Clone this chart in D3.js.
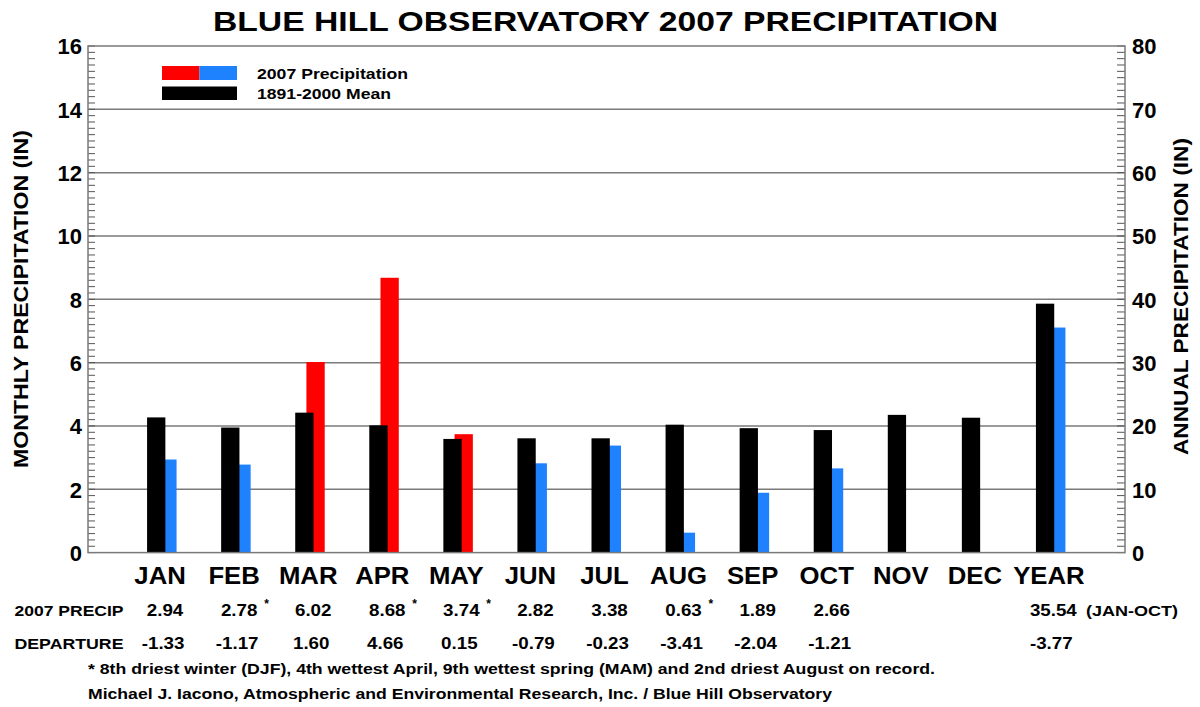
<!DOCTYPE html>
<html>
<head>
<meta charset="utf-8">
<script src="https://cdn.jsdelivr.net/npm/d3@7"></script>
<style>
  html, body { margin: 0; padding: 0; background: #fff; }
  svg { display: block; font-family: "Liberation Sans", Arial, Helvetica, sans-serif; font-weight: bold; }
</style>
</head>
<body>
<svg id="chart" width="1200" height="707"></svg>
<script>
// Monthly precipitation, Blue Hill Observatory, 2007 (inches)
const categories = ["JAN", "FEB", "MAR", "APR", "MAY", "JUN", "JUL", "AUG", "SEP", "OCT", "NOV", "DEC"];
const precip2007 = [2.94, 2.78, 6.02, 8.68, 3.74, 2.82, 3.38, 0.63, 1.89, 2.66, null, null];
const departure  = [-1.33, -1.17, 1.60, 4.66, 0.15, -0.79, -0.23, -3.41, -2.04, -1.21, null, null];
const meanMonthly = [4.27, 3.95, 4.42, 4.02, 3.59, 3.61, 3.61, 4.04, 3.93, 3.87, 4.35, 4.26];
const recordFlags = [false, true, false, true, true, false, false, true, false, false, false, false];

// Annual totals (plotted against the right-hand axis)
const yearLabel = "YEAR";
const annual2007 = 35.54;
const annualDeparture = -3.77;
const annualMean = 39.31;
const annualNote = "(JAN-OCT)";

const leftTicks = [0, 2, 4, 6, 8, 10, 12, 14, 16];
const rightTicks = [0, 10, 20, 30, 40, 50, 60, 70, 80];

const footnote = "* 8th driest winter (DJF), 4th wettest April, 9th wettest spring (MAM) and 2nd driest August on record.";
const credit = "Michael J. Iacono, Atmospheric and Environmental Research, Inc. / Blue Hill Observatory";

const svg = d3.select("#chart");
const plot = { left: 88, right: 1125, top: 46, bottom: 552.6 };

const RED = "#ff0000", BLUE = "#1e82ff", GRID = "#7a7a7a";

// Widen glyphs horizontally to mimic the wide Helvetica used in the plot
function widen(sel, factor) {
  sel.each(function () {
    const w = this.getComputedTextLength();
    d3.select(this).attr("textLength", w * factor).attr("lengthAdjust", "spacingAndGlyphs");
  });
  return sel;
}
function fitTo(sel, width) {
  return sel.attr("textLength", width).attr("lengthAdjust", "spacingAndGlyphs");
}

// x position: category i sits at i+1 on a 0..14 slot scale
const x = d3.scaleLinear().domain([0, 14]).range([plot.left, plot.right]);
const yL = d3.scaleLinear().domain([0, 16]).range([plot.bottom, plot.top]);
const yR = d3.scaleLinear().domain([0, 80]).range([plot.bottom, plot.top]);

const BAR_W = 18.3;
const MEAN_OFF = -15;   // mean bar starts left of slot centre
const OBS_OFF = -3.8;   // observed bar overlaps, shifted right

// Title
fitTo(svg.append("text")
  .attr("x", 605.5).attr("y", 31)
  .attr("text-anchor", "middle")
  .attr("font-size", 28)
  .text("BLUE HILL OBSERVATORY 2007 PRECIPITATION"), 785);

// Gridlines at major left ticks
svg.append("g").selectAll("line")
  .data(leftTicks.filter(d => d > 0 && d < 16))
  .join("line")
  .attr("x1", plot.left).attr("x2", plot.right)
  .attr("y1", d => yL(d)).attr("y2", d => yL(d))
  .attr("stroke", GRID).attr("stroke-width", 1.5);

// Left axis: labels + minor ticks
const leftAxis = d3.axisLeft(yL).tickValues(leftTicks).tickSize(0).tickPadding(6).tickFormat(d3.format("d"));
const gL = svg.append("g").attr("transform", `translate(${plot.left},0)`).call(leftAxis);
gL.select(".domain").remove();
gL.selectAll("text").attr("font-size", 22).attr("font-family", null).attr("font-weight", "bold").attr("fill", "#000").attr("dy", "0.36em");

const leftMinor = d3.range(0, 16.001, 0.2);
svg.append("g").selectAll("line").data(leftMinor).join("line")
  .attr("x1", plot.left).attr("x2", plot.left + 7)
  .attr("y1", d => yL(d)).attr("y2", d => yL(d))
  .attr("stroke", "#555").attr("stroke-width", 1);

// Right axis: labels + minor ticks
const rightAxis = d3.axisRight(yR).tickValues(rightTicks).tickSize(0).tickPadding(7).tickFormat(d3.format("d"));
const gR = svg.append("g").attr("transform", `translate(${plot.right},0)`).call(rightAxis);
gR.select(".domain").remove();
gR.selectAll("text").attr("font-size", 22).attr("font-family", null).attr("font-weight", "bold").attr("fill", "#000").attr("dy", "0.36em");

const rightMinor = d3.range(0, 80.001, 1);
svg.append("g").selectAll("line").data(rightMinor).join("line")
  .attr("x1", plot.right - 8).attr("x2", plot.right)
  .attr("y1", d => yR(d)).attr("y2", d => yR(d))
  .attr("stroke", "#555").attr("stroke-width", 1);

// Axis titles
fitTo(svg.append("text")
  .attr("transform", `translate(28,299) rotate(-90)`)
  .attr("text-anchor", "middle").attr("font-size", 20)
  .text("MONTHLY PRECIPITATION (IN)"), 338);
fitTo(svg.append("text")
  .attr("transform", `translate(1188,296.5) rotate(-90)`)
  .attr("text-anchor", "middle").attr("font-size", 20)
  .text("ANNUAL PRECIPITATION (IN)"), 317);

// Monthly bars: observed first, mean on top
const bars = svg.append("g");
const monthly = categories.map((c, i) => ({ c, i, obs: precip2007[i], mean: meanMonthly[i] }));
bars.selectAll("rect.obs").data(monthly.filter(d => d.obs != null)).join("rect")
  .attr("class", "obs")
  .attr("x", d => x(d.i + 1) + OBS_OFF).attr("width", BAR_W)
  .attr("y", d => yL(d.obs)).attr("height", d => yL(0) - yL(d.obs))
  .attr("fill", d => d.obs > d.mean ? RED : BLUE);
bars.selectAll("rect.mean").data(monthly).join("rect")
  .attr("class", "mean")
  .attr("x", d => x(d.i + 1) + MEAN_OFF).attr("width", BAR_W)
  .attr("y", d => yL(d.mean)).attr("height", d => yL(0) - yL(d.mean))
  .attr("fill", "#000");

// Annual bars on the right-hand scale
const yi = categories.length + 1;
bars.append("rect")
  .attr("x", x(yi) + OBS_OFF).attr("width", BAR_W)
  .attr("y", yR(annual2007)).attr("height", yR(0) - yR(annual2007))
  .attr("fill", annual2007 > annualMean ? RED : BLUE);
bars.append("rect")
  .attr("x", x(yi) + MEAN_OFF).attr("width", BAR_W)
  .attr("y", yR(annualMean)).attr("height", yR(0) - yR(annualMean))
  .attr("fill", "#000");

// Plot frame
svg.append("rect")
  .attr("x", plot.left).attr("y", plot.top)
  .attr("width", plot.right - plot.left).attr("height", plot.bottom - plot.top)
  .attr("fill", "none").attr("stroke", GRID).attr("stroke-width", 1.5);

// Category labels
const labels = categories.concat([yearLabel]);
widen(svg.append("g").selectAll("text").data(labels).join("text")
  .attr("x", (d, i) => x(i + 1) - 2)
  .attr("y", 584)
  .attr("text-anchor", "middle").attr("font-size", 24.5)
  .text(d => d), 1.05);

// Value rows
const fmt = v => v.toFixed(2);
fitTo(svg.append("text").attr("x", 14.5).attr("y", 616).attr("font-size", 15.5).text("2007 PRECIP"), 109);
fitTo(svg.append("text").attr("x", 14.5).attr("y", 649).attr("font-size", 15.5).text("DEPARTURE"), 109);

const rowG = svg.append("g").attr("font-size", 16);
widen(rowG.selectAll("text.p").data(monthly.filter(d => d.obs != null)).join("text")
  .attr("class", "p")
  .attr("x", d => x(d.i + 1) + 3).attr("y", 616)
  .attr("text-anchor", "middle")
  .text(d => fmt(d.obs)), 1.17);
rowG.selectAll("text.star").data(monthly.filter(d => recordFlags[d.i])).join("text")
  .attr("class", "star")
  .attr("x", d => x(d.i + 1) + 28).attr("y", 608)
  .attr("font-size", 12)
  .text("*");
widen(rowG.selectAll("text.d").data(monthly.filter(d => departure[d.i] != null)).join("text")
  .attr("class", "d")
  .attr("x", d => x(d.i + 1) + 1).attr("y", 649)
  .attr("text-anchor", "middle")
  .text(d => fmt(departure[d.i])), 1.17);

widen(rowG.append("text").attr("x", x(yi) - 21).attr("y", 616).text(fmt(annual2007)), 1.17);
fitTo(rowG.append("text").attr("x", x(yi) + 35).attr("y", 616).attr("font-size", 14.5).text(annualNote), 92);
widen(rowG.append("text").attr("x", x(yi) - 21).attr("y", 649).text(fmt(annualDeparture)), 1.17);

// Footnotes
fitTo(svg.append("text").attr("x", 88).attr("y", 674).attr("font-size", 14.5).text(footnote), 847);
fitTo(svg.append("text").attr("x", 88).attr("y", 699).attr("font-size", 14.5).text(credit), 744);

// Legend
const legend = svg.append("g");
legend.append("rect").attr("x", 162).attr("y", 66).attr("width", 37.5).attr("height", 14).attr("fill", RED);
legend.append("rect").attr("x", 199.5).attr("y", 66).attr("width", 37.5).attr("height", 14).attr("fill", BLUE);
legend.append("rect").attr("x", 162).attr("y", 86.5).attr("width", 75).attr("height", 13.5).attr("fill", "#000");
fitTo(legend.append("text").attr("x", 257).attr("y", 79).attr("font-size", 14.5).text("2007 Precipitation"), 151);
fitTo(legend.append("text").attr("x", 257).attr("y", 99).attr("font-size", 14.5).text("1891-2000 Mean"), 134);
</script>
</body>
</html>
